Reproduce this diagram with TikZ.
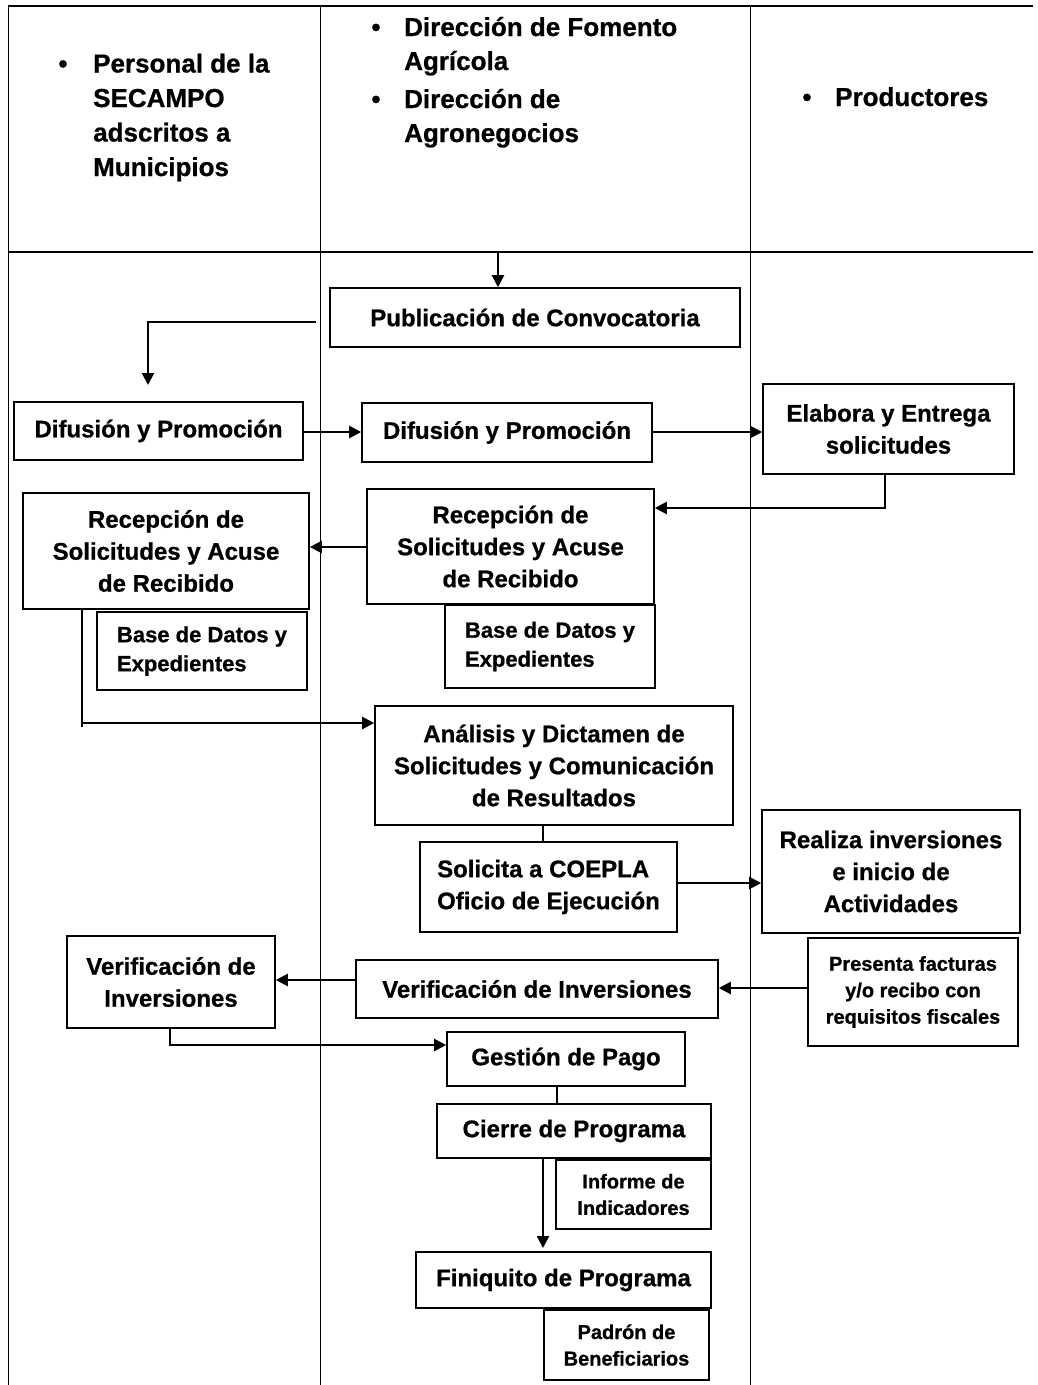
\documentclass[tikz,border=0pt]{standalone}
\usepackage{fontspec}
\setmainfont{Liberation Sans}[BoldFeatures={FakeBold=0.8}]
\usetikzlibrary{arrows.meta}
\begin{document}
\begin{tikzpicture}[x=1pt,y=-1pt,
  box/.style={draw, line width=1.6pt, align=center, inner sep=0pt, font=\bfseries\fontsize{24}{32}\selectfont},
  smallbox/.style={box, font=\bfseries\fontsize{20}{26.5}\selectfont},
  basebox/.style={box, align=left, font=\bfseries\fontsize{22}{29}\selectfont},
  hdr/.style={anchor=base west, inner sep=0pt, font=\bfseries\fontsize{26}{34}\selectfont},
  bul/.style={anchor=base, inner sep=0pt, font=\bfseries\fontsize{26}{34}\selectfont},
  arr/.style={line width=2.2pt, -{Triangle[length=12pt,width=12pt]}},
  conn/.style={line width=1.4pt},
  gridline/.style={line width=0.9pt},
  rule/.style={line width=2.8pt}]

\path[use as bounding box, fill=white] (0,0) rectangle (1037,1385);

% table
\draw[gridline] (8,6) -- (8,1385);
\draw[gridline] (320,6) -- (320,1385);
\draw[gridline] (750,6) -- (750,1385);
\draw[rule] (8,6) -- (1033,6);
\draw[rule] (8,252) -- (1033,252);

% header
\node[bul] (b1) at (63,72.5) {•};
\node[hdr] (h1a) at (93,72.5) {Personal de la};
\node[hdr] (h1b) at (93,107) {SECAMPO};
\node[hdr] (h1c) at (93,141.5) {adscritos a};
\node[hdr] (h1d) at (93,176) {Municipios};
\node[bul] (b2) at (376,36) {•};
\node[hdr] (h2a) at (404,36) {Dirección de Fomento};
\node[hdr] (h2b) at (404,70) {Agrícola};
\node[bul] (b3) at (376,108) {•};
\node[hdr] (h2c) at (404,108) {Dirección de};
\node[hdr] (h2d) at (404,142) {Agronegocios};
\node[bul] (b4) at (807,106) {•};
\node[hdr] (h3a) at (835,106) {Productores};

% boxes
\node[box, minimum width=410, minimum height=59] (pub) at (535,317.5) {Publicación de Convocatoria};
\node[box, minimum width=289, minimum height=58] (difL) at (158.5,431) {Difusión y Promoción};
\node[box, minimum width=290, minimum height=59] (difM) at (507,432.5) {Difusión y Promoción};
\node[box, minimum width=251, minimum height=90] (elab) at (888.5,429) {Elabora y Entrega\\solicitudes};
\node[box, minimum width=287, minimum height=115] (recM) at (510.5,546.5) {Recepción de\\Solicitudes y Acuse\\de Recibido};
\node[box, minimum width=286, minimum height=116] (recL) at (166,551) {Recepción de\\Solicitudes y Acuse\\de Recibido};
\node[basebox, minimum width=210, minimum height=78] (baseL) at (202,651) {Base de Datos y\\Expedientes};
\node[basebox, minimum width=210, minimum height=83] (baseM) at (550,646.5) {Base de Datos y\\Expedientes};
\node[box, minimum width=358, minimum height=119] (anal) at (554,765.5) {Análisis y Dictamen de\\Solicitudes y Comunicación\\de Resultados};
\node[box, align=left, minimum width=257, minimum height=90] (soli) at (548.5,887) {Solicita a COEPLA\\Oficio de Ejecución};
\node[box, minimum width=258, minimum height=123] (real) at (891,871.5) {Realiza inversiones\\e inicio de\\Actividades};
\node[smallbox, minimum width=210, minimum height=108] (pres) at (913,992) {Presenta facturas\\y/o recibo con\\requisitos fiscales};
\node[box, minimum width=362, minimum height=58] (verM) at (537,989) {Verificación de Inversiones};
\node[box, minimum width=208, minimum height=92] (verL) at (171,982) {Verificación de\\Inversiones};
\node[box, minimum width=238, minimum height=54] (gest) at (566,1059) {Gestión de Pago};
\node[box, minimum width=274, minimum height=54] (cier) at (574,1131) {Cierre de Programa};
\node[smallbox, minimum width=155, minimum height=69] (info) at (633.5,1194.5) {Informe de\\Indicadores};
\node[box, minimum width=295, minimum height=56] (fini) at (563.5,1280) {Finiquito de Programa};
\node[smallbox, minimum width=165, minimum height=70] (padr) at (626.5,1345) {Padrón de\\Beneficiarios};

% connectors
\coordinate (top) at (498,252);
\draw[arr] (top) -- (top |- pub.north);
\coordinate (p1) at (316,322);
\coordinate (p2) at (148,385);
\draw[arr] (p1) -| (p2);
\draw[arr] (difL.east |- 0,432) -- (difM.west |- 0,432);
\draw[arr] (difM.east |- 0,432) -- (elab.west |- 0,432);
\coordinate (e1) at (885,508);
\draw[arr] (elab.south -| e1) |- (recM.east |- e1);
\draw[arr] (recM.west |- 0,547) -- (recL.east |- 0,547);
\coordinate (r1) at (82,727);
\coordinate (r2) at (82,723);
\draw[conn] (recL.south -| r1) -- (r1);
\draw[arr] (r2) -- (anal.west |- r2);
\coordinate (a1) at (543,0);
\draw[conn] (anal.south -| a1) -- (soli.north -| a1);
\draw[arr] (soli.east |- 0,883) -- (real.west |- 0,883);
\draw[arr] (pres.west |- 0,988) -- (verM.east |- 0,988);
\draw[arr] (verM.west |- 0,980) -- (verL.east |- 0,980);
\coordinate (v1) at (170,1045);
\draw[arr] (verL.south -| v1) |- (gest.west |- v1);
\coordinate (g1) at (557,0);
\draw[conn] (gest.south -| g1) -- (cier.north -| g1);
\coordinate (c1) at (543,1248);
\draw[arr] (cier.south -| c1) -- (c1);
\end{tikzpicture}
\end{document}
